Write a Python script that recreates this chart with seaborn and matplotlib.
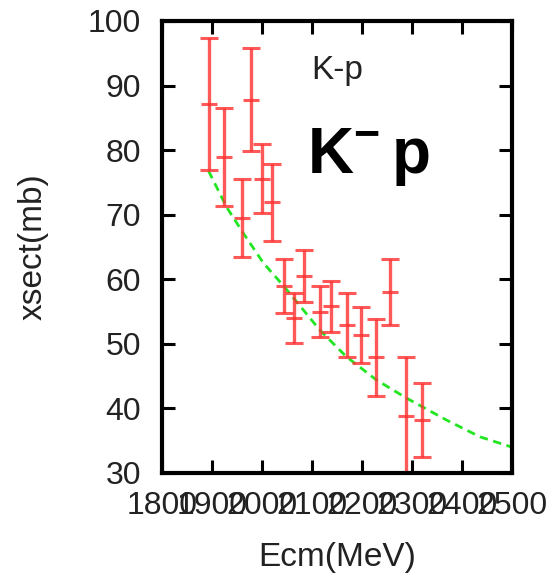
import matplotlib
matplotlib.use("Agg")
import matplotlib.pyplot as plt
import seaborn as sns
import pandas as pd

# K-p total cross section measurements
ecm = [1894, 1925, 1960, 1979, 2001, 2021, 2044, 2065, 2084, 2116,
       2139, 2171, 2199, 2228, 2257, 2288, 2321]
xsect = [87.1, 79.0, 69.5, 87.8, 75.6, 71.9, 59.0, 54.0, 60.5, 55.0,
         55.8, 52.9, 51.4, 47.9, 58.0, 38.9, 38.2]
xsect_err = [10.2, 7.6, 6.0, 8.0, 5.3, 5.9, 4.2, 3.9, 4.0, 4.0,
             4.0, 5.0, 4.3, 6.0, 5.1, 9.0, 5.7]

# Model curve
model_ecm = [1893, 1929, 1963, 2003, 2044, 2116, 2169, 2229, 2289, 2369, 2436, 2500]
model_xsect = [76.8, 71.2, 67.1, 62.5, 58.9, 52.1, 48.0, 44.4, 41.6, 38.2, 35.6, 34.0]

x_ticks = [1800, 1900, 2000, 2100, 2200, 2300, 2400, 2500]
y_ticks = [30, 40, 50, 60, 70, 80, 90, 100]

sns.set_theme(style="ticks")
plt.rcParams["font.family"] = ["Liberation Sans", "DejaVu Sans"]
plt.rcParams["mathtext.fontset"] = "custom"
plt.rcParams["mathtext.rm"] = "Liberation Sans"
plt.rcParams["mathtext.bf"] = "Liberation Sans:bold"

fig = plt.figure(figsize=(5.47, 5.74), dpi=100)
ax = fig.add_axes([162 / 547, 101 / 574, 350 / 547, 452 / 574])

model_df = pd.DataFrame({"ecm": model_ecm, "xsect": model_xsect})
sns.lineplot(data=model_df, x="ecm", y="xsect", ax=ax, color="#22e622",
             linewidth=2.0, dashes=False, linestyle=(0, (3, 2)))

ax.errorbar(ecm, xsect, yerr=xsect_err, fmt="none", ecolor="#ff3030",
            elinewidth=2.4, capsize=6.5, capthick=2.2, alpha=0.8)
sns.scatterplot(x=ecm, y=xsect, ax=ax, marker="_", s=120, color="#ff3030",
                linewidth=2.2, alpha=0.8)

ax.set_xlim(1800, 2500)
ax.set_ylim(30, 100)
ax.set_xticks(x_ticks)
ax.set_yticks(y_ticks)
ax.set_xticklabels([str(v) for v in x_ticks])
ax.set_yticklabels([str(v) for v in y_ticks])

ax.tick_params(axis="both", which="major", direction="in", length=9.5, width=2.2,
               labelsize=23, colors="black", top=True, right=True,
               labelcolor="#222222")
ax.tick_params(axis="y", pad=15)
ax.tick_params(axis="x", pad=13)
for sp in ax.spines.values():
    sp.set_visible(True)
    sp.set_linewidth(3.0)
    sp.set_color("black")

ax.set_xlabel("Ecm(MeV)", fontsize=24, color="#222222", labelpad=15)
ax.set_ylabel("xsect(mb)", fontsize=24, color="#222222", labelpad=28)

ax.text(2150, 91.0, "K-p", fontsize=24, color="#222222", ha="center",
        va="baseline")
ax.text(2214, 76.5, r"$\mathbf{K}^{\mathbf{-}}\,\mathbf{p}$", fontsize=46,
        color="black", ha="center", va="baseline")

fig.savefig("out.png", dpi=100)
